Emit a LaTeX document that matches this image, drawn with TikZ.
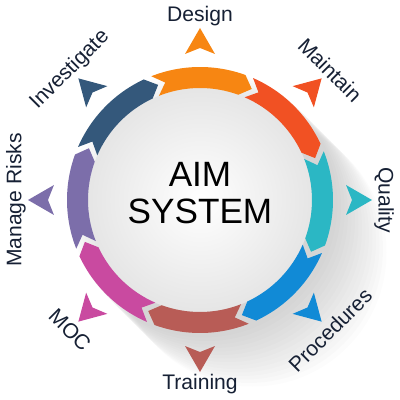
\documentclass[tikz,border=0pt]{standalone}
\usepackage{fontspec}
\setmainfont{Liberation Sans}
\definecolor{cDesign}{RGB}{247,134,18}
\definecolor{cMaintain}{RGB}{241,81,35}
\definecolor{cQuality}{RGB}{43,183,196}
\definecolor{cProcedures}{RGB}{17,138,214}
\definecolor{cTraining}{RGB}{184,92,86}
\definecolor{cMOC}{RGB}{201,74,160}
\definecolor{cRisks}{RGB}{124,110,170}
\definecolor{cInvestigate}{RGB}{52,88,123}
\definecolor{labeltext}{RGB}{22,32,52}
\tikzset{
  steplabel/.style={text=labeltext, font=\fontsize{15}{18}\selectfont, inner sep=0pt},
  centretext/.style={align=center, font=\fontsize{25}{26.3}\selectfont, inner sep=0pt}
}
\begin{document}
\begin{tikzpicture}[x=0.025cm,y=0.025cm]
\useasboundingbox (-200,-200) rectangle (200,200);
\foreach \d in {1,...,15}
  \fill [black!55, opacity=0.025] (\d*3.5,-\d*3.5) circle (134);
\shade [inner color=white, outer color=gray!20] (0,0) circle (112);
\foreach \a/\r/\c/\t [count=\i] in {90/0/cDesign/Design, 45/-45/cMaintain/Maintain, 0/-90/cQuality/Quality, -45/45/cProcedures/Procedures, -90/0/cTraining/Training, -135/-45/cMOC/MOC, 180/90/cRisks/Manage Risks, 135/45/cInvestigate/Investigate}
{
\begin{scope}[rotate=\a]
\fill [\c] (21.5:133) arc[start angle=21.5, end angle=-20, radius=133] -- (-25:122.5) -- (-20:112) arc[start angle=-20, end angle=21.5, radius=112] -- (16.5:122.5) -- cycle;
\fill [\c] (172,0) -- (146,15) -- (152,0) -- (146,-15) -- cycle;
\end{scope}
\node [steplabel, rotate=\r] (step\i) at (\a:184) {\t};
}
\node [centretext] (aim) at (0,7) {AIM\\SYSTEM};
\end{tikzpicture}
\end{document}
